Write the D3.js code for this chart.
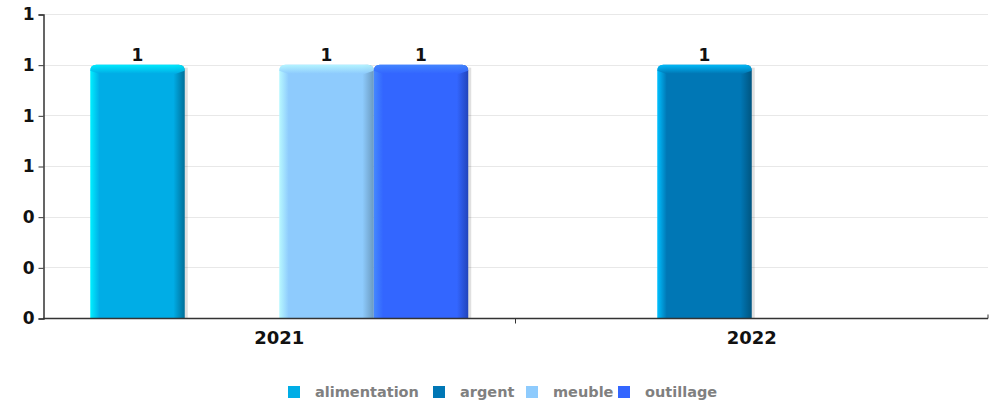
<!DOCTYPE html>
<html>
<head>
<meta charset="utf-8">
<script src="https://cdnjs.cloudflare.com/ajax/libs/d3/7.8.5/d3.min.js"></script>
<style>
  body { margin: 0; background: #fff; }
  svg { font-family: "DejaVu Sans", sans-serif; }
</style>
</head>
<body>
<div class="main"></div>
<script>
var categories = ["2021", "2022"];
var seriesNames = ["alimentation", "argent", "meuble", "outillage"];
var seriesColors = ["#00ade6", "#0077b5", "#8ecbfd", "#3366ff"];
var lightColors = ["#00f0ff", "#00c0ff", "#b8f8ff", "#4488ff"];
var darkColors = ["#006f99", "#005580", "#6a9ac0", "#2244bb"];
var values2021 = [1, 0, 1, 1];
var values2022 = [0, 1, 0, 0];
var yTicks = [0, 0.2, 0.4, 0.6, 0.8, 1.0, 1.2];

var W = 994, H = 404;
var m = {left: 43, right: 6, top: 14, bottom: 86};

var svg = d3.select(".main").append("svg")
    .attr("width", W).attr("height", H);

var x0 = d3.scaleBand().domain(categories)
    .range([m.left, W - m.right]).paddingInner(0).paddingOuter(0);
var x1 = d3.scaleBand().domain(seriesNames)
    .range([0, x0.bandwidth()]).paddingOuter(0.5).paddingInner(0);
var y = d3.scaleLinear().domain([0, 1.2]).range([H - m.bottom, m.top]);

var data = categories.map(function(c, i) {
    var vals = i === 0 ? values2021 : values2022;
    return {cat: c, values: seriesNames.map(function(s, j) {
        return {key: s, idx: j, value: vals[j]};
    })};
});

// gradients
var defs = svg.append("defs");
seriesNames.forEach(function(s, j) {
    var g = defs.append("linearGradient").attr("id", "g" + j)
        .attr("x1", "0").attr("x2", "1").attr("y1", "0").attr("y2", "0");
    g.append("stop").attr("offset", "0").attr("stop-color", lightColors[j]);
    g.append("stop").attr("offset", "0.1").attr("stop-color", seriesColors[j]);
    g.append("stop").attr("offset", "0.88").attr("stop-color", seriesColors[j]);
    g.append("stop").attr("offset", "1").attr("stop-color", darkColors[j]);
    var t = defs.append("linearGradient").attr("id", "t" + j)
        .attr("x1", "0").attr("x2", "0").attr("y1", "0").attr("y2", "1");
    t.append("stop").attr("offset", "0").attr("stop-color", lightColors[j]);
    t.append("stop").attr("offset", "1").attr("stop-color", seriesColors[j]);
});

// grid
svg.append("g").selectAll("line").data(yTicks).enter().append("line")
    .attr("x1", m.left).attr("x2", W - m.right)
    .attr("y1", function(d) { return Math.round(y(d)) + 0.5; })
    .attr("y2", function(d) { return Math.round(y(d)) + 0.5; })
    .attr("stroke", "#e8e8e8");

// bars
var groups = svg.append("g").selectAll("g").data(data).enter().append("g")
    .attr("transform", function(d) { return "translate(" + x0(d.cat) + ",0)"; });

var bars = groups.selectAll("g").data(function(d) {
    return d.values.filter(function(v) { return v.value > 0; });
}).enter().append("g");

var bw = x1.bandwidth();
// shadow
bars.append("rect")
    .attr("x", function(d) { return x1(d.key) + 3; })
    .attr("y", function(d) { return y(d.value) + 3; })
    .attr("width", bw)
    .attr("height", function(d) { return y(0) - y(d.value) - 3; })
    .attr("fill", "#000").attr("opacity", 0.12);
bars.append("path")
    .attr("d", function(d) {
        var x = x1(d.key), top = y(d.value), bot = y(0), r = 6;
        return "M" + x + "," + bot + "V" + (top + r) + "Q" + x + "," + top + " " + (x + r) + "," + top +
            "H" + (x + bw - r) + "Q" + (x + bw) + "," + top + " " + (x + bw) + "," + (top + r) + "V" + bot + "Z";
    })
    .attr("fill", function(d) { return "url(#g" + d.idx + ")"; });
// top bevel
bars.append("path")
    .attr("d", function(d) {
        var x = x1(d.key), top = y(d.value), r = 6, b = 9;
        return "M" + x + "," + (top + r) + "Q" + x + "," + top + " " + (x + r) + "," + top +
            "H" + (x + bw - r) + "Q" + (x + bw) + "," + top + " " + (x + bw) + "," + (top + r) +
            "L" + (x + bw - b) + "," + (top + b) + "H" + (x + b) + "Z";
    })
    .attr("fill", function(d) { return "url(#t" + d.idx + ")"; })
    .attr("opacity", 0.9);

// value labels
bars.append("text")
    .attr("x", function(d) { return x1(d.key) + bw / 2; })
    .attr("y", function(d) { return y(d.value) - 4; })
    .attr("text-anchor", "middle")
    .attr("font-size", 17).attr("font-weight", "bold").attr("fill", "#111")
    .text(function(d) { return d3.format(".0f")(d.value); });

// y axis
var yAxis = svg.append("g").attr("transform", "translate(" + (m.left + 0.5) + ",0.5)")
    .call(d3.axisLeft(y).tickValues(yTicks).tickSize(5).tickFormat(d3.format(".0f")));
yAxis.select(".domain").attr("stroke", "#333").attr("stroke-width", 1.5);
yAxis.selectAll("line").attr("stroke", "#333");
yAxis.selectAll("text").attr("font-size", 17).attr("font-weight", "bold")
    .attr("fill", "#111").attr("x", -9).attr("font-family", "DejaVu Sans");

// x axis
var xAxis = svg.append("g").attr("transform", "translate(0," + (y(0) + 0.5) + ")");
xAxis.append("line").attr("x1", m.left).attr("x2", W - m.right)
    .attr("stroke", "#333").attr("stroke-width", 1.5);
xAxis.selectAll(".tk").data(categories.slice(1)).enter().append("line")
    .attr("x1", function(d) { return x0(d); }).attr("x2", function(d) { return x0(d); })
    .attr("y1", 0).attr("y2", 5).attr("stroke", "#333");
xAxis.append("line").attr("x1", W - m.right).attr("x2", W - m.right)
    .attr("y1", -4).attr("y2", 0).attr("stroke", "#333");
xAxis.selectAll("text").data(categories).enter().append("text")
    .attr("x", function(d) { return x0(d) + x0.bandwidth() / 2; })
    .attr("y", 25).attr("text-anchor", "middle")
    .attr("font-size", 18).attr("font-weight", "bold").attr("fill", "#111")
    .text(function(d) { return d; });

// legend
var legendX = [288, 433, 526, 618];
var legend = svg.append("g").selectAll("g").data(seriesNames).enter().append("g")
    .attr("transform", function(d, i) { return "translate(" + legendX[i] + ",386)"; });
legend.append("rect").attr("width", 12).attr("height", 12)
    .attr("fill", function(d, i) { return seriesColors[i]; });
legend.append("text").attr("x", 27).attr("y", 11)
    .attr("font-size", 14.5).attr("font-weight", "bold").attr("fill", "#808080")
    .text(function(d) { return d; });
</script>
</body>
</html>
